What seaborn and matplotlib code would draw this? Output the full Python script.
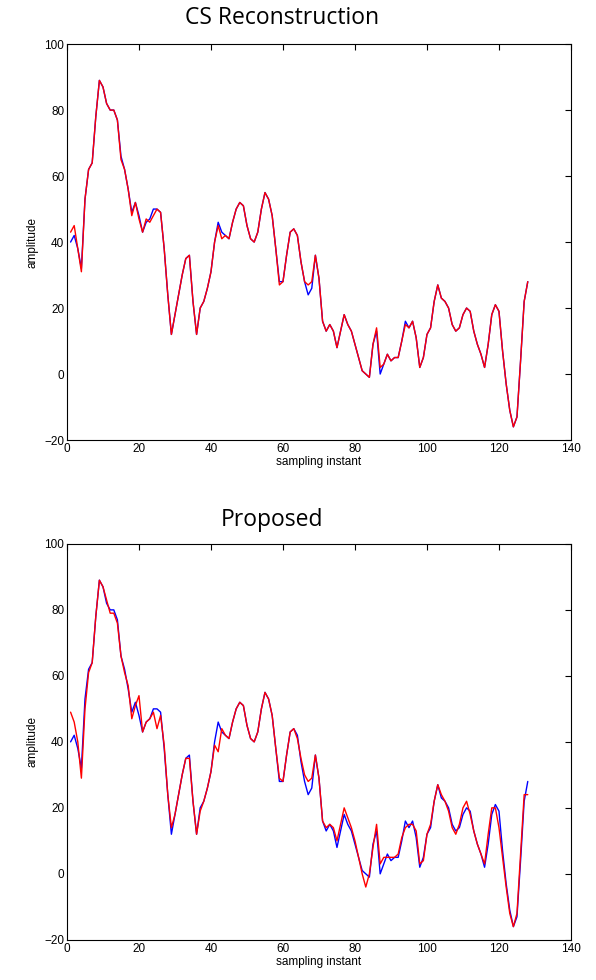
import numpy as np
import pandas as pd
import matplotlib
matplotlib.use('Agg')
import matplotlib.pyplot as plt
import seaborn as sns

# sample index 1..128
samples = list(range(1, 129))

original = [40, 42, 38, 32, 53, 62, 64, 78, 89, 87,
            82, 80, 80, 77, 66, 62, 56, 49, 52, 48,
            43, 46, 47, 50, 50, 49, 38, 24, 12, 18,
            24, 30, 35, 36, 22, 12, 20, 22, 26, 31,
            40, 46, 43, 42, 41, 46, 50, 52, 51, 45,
            41, 40, 43, 50, 55, 53, 48, 38, 28, 28,
            36, 43, 44, 42, 34, 28, 24, 26, 36, 29,
            16, 13, 15, 13, 8, 13, 18, 15, 13, 9,
            5, 1, 0, -1, 9, 13, 0, 3, 6, 4,
            5, 5, 10, 16, 14, 16, 11, 2, 5, 12,
            14, 22, 27, 23, 22, 20, 15, 13, 14, 18,
            20, 19, 13, 9, 6, 2, 9, 18, 21, 19,
            7, -3, -11, -16, -13, 4, 22, 28]

cs_recon = [43, 45, 38, 31, 53, 62, 64, 78, 89, 87,
            82, 80, 80, 77, 65, 62, 56, 48, 52, 47,
            43, 47, 46, 48, 50, 49, 38, 24, 12, 18,
            24, 30, 35, 36, 22, 12, 20, 22, 26, 31,
            40, 45, 41, 42, 41, 46, 50, 52, 51, 45,
            41, 40, 43, 50, 55, 53, 48, 38, 27, 28,
            36, 43, 44, 42, 34, 28, 27, 28, 36, 29,
            16, 13, 15, 13, 8, 13, 18, 15, 13, 9,
            5, 1, 0, -1, 9, 14, 2, 3, 6, 4,
            5, 5, 10, 15, 14, 16, 11, 2, 5, 12,
            14, 22, 27, 23, 22, 20, 15, 13, 14, 18,
            20, 19, 13, 9, 6, 2, 9, 18, 21, 19,
            7, -3, -11, -16, -13, 4, 22, 28]

proposed = [49, 46, 40, 29, 50, 61, 64, 78, 89, 87,
            83, 79, 79, 76, 66, 61, 57, 47, 51, 54,
            43, 46, 47, 49, 44, 48, 39, 24, 14, 18,
            24, 30, 35, 35, 22, 12, 19, 22, 26, 31,
            39, 37, 44, 42, 41, 46, 50, 52, 51, 45,
            41, 40, 43, 50, 55, 53, 48, 38, 29, 28,
            36, 43, 44, 41, 35, 30, 28, 29, 36, 29,
            16, 14, 15, 14, 10, 15, 20, 17, 14, 10,
            5, 0, -4, 0, 8, 15, 3, 5, 5, 5,
            5, 6, 11, 14, 15, 15, 13, 3, 4, 12,
            15, 22, 27, 24, 22, 19, 14, 12, 15, 20,
            22, 18, 13, 9, 6, 3, 12, 20, 20, 14,
            5, -4, -12, -16, -12, 6, 24, 24]

xticks = [0, 20, 40, 60, 80, 100, 120, 140]
yticks = [-20, 0, 20, 40, 60, 80, 100]

sns.set_style("white")
plt.rcParams['font.family'] = ['Liberation Sans', 'DejaVu Sans']
plt.rcParams['text.color'] = 'black'
plt.rcParams['axes.labelcolor'] = 'black'

fig = plt.figure(figsize=(5.96, 9.8), dpi=100)
ax_top = fig.add_axes([0.1124, 0.551, 0.8456, 0.404])
ax_bot = fig.add_axes([0.1124, 0.041, 0.8456, 0.404])

for ax, recon in [(ax_top, cs_recon), (ax_bot, proposed)]:
    df = pd.DataFrame({'sample': samples, 'original': original, 'recon': recon})
    sns.lineplot(data=df, x='sample', y='original', color='#0000ff', linewidth=1.0, ax=ax)
    sns.lineplot(data=df, x='sample', y='recon', color='#ff0000', linewidth=1.0, ax=ax)
    ax.set_xlim(0, 140)
    ax.set_ylim(-20, 100)
    ax.set_xticks(xticks)
    ax.set_yticks(yticks)
    ax.tick_params(direction='in', top=True, right=True, length=4, width=0.8,
                   labelsize=8.5, colors='black', pad=2)
    for s in ax.spines.values():
        s.set_color('black')
        s.set_linewidth(0.8)
    ax.set_xlabel('sampling instant', fontsize=8.5, labelpad=1)
    ax.set_ylabel('amplitude', fontsize=8.5, labelpad=4)

fig.text(0.473, 0.982, 'CS Reconstruction', ha='center', va='center',
         fontsize=16.5, color='black', family=['Open Sans', 'DejaVu Sans'])
fig.text(0.456, 0.469, 'Proposed', ha='center', va='center',
         fontsize=16.5, color='black', family=['Open Sans', 'DejaVu Sans'])

fig.savefig('out.png', dpi=100, facecolor='white')
